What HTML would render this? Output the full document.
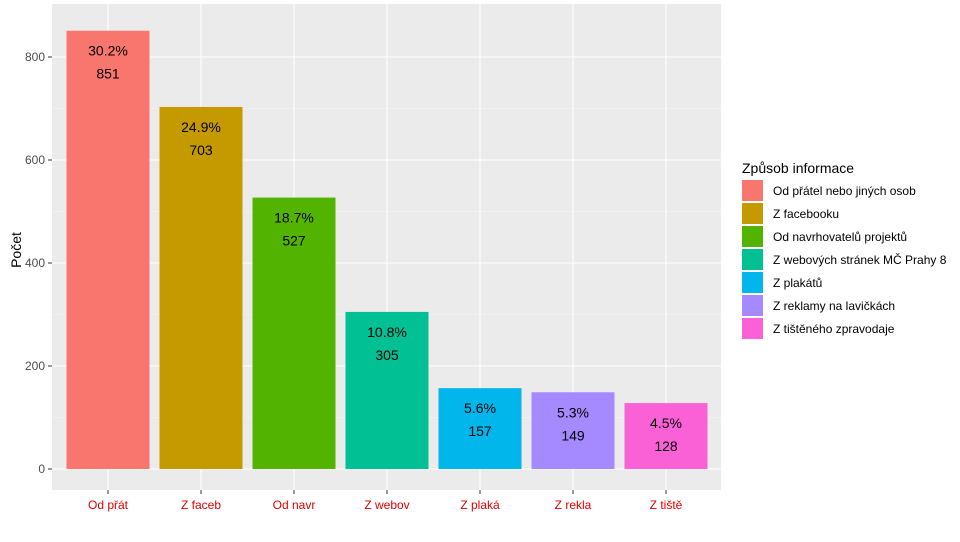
<!DOCTYPE html>
<html><head><meta charset="utf-8"><style>
body{margin:0;background:#fff;font-family:"Liberation Sans",sans-serif;}
</style></head><body>
<svg width="960" height="537" xmlns="http://www.w3.org/2000/svg" font-family="Liberation Sans, sans-serif">
<rect x="0" y="0" width="960" height="537" fill="#fff"/>
<rect x="52" y="4" width="669" height="486" fill="#ebebeb"/>
<g id="grid"></g>
<g id="bars"></g>
<g id="yaxis"></g>
<g id="xaxis"></g>
<text transform="translate(21,250) rotate(-90)" text-anchor="middle" font-size="14" fill="#000">Počet</text>
<g id="legend">
<text x="742" y="173" font-size="14" fill="#000">Způsob informace</text>
</g>
<script>
const categories=["Od přát","Z faceb","Od navr","Z webov","Z plaká","Z rekla","Z tiště"];
const legendLabels=["Od přátel nebo jiných osob","Z facebooku","Od navrhovatelů projektů","Z webových stránek MČ Prahy 8","Z plakátů","Z reklamy na lavičkách","Z tištěného zpravodaje"];
const values=[851,703,527,305,157,149,128];
const percents=["30.2%","24.9%","18.7%","10.8%","5.6%","5.3%","4.5%"];
const colors=["#F8766D","#C49A00","#53B400","#00C094","#00B6EB","#A58AFF","#FB61D7"];
const yTicks=[0,200,400,600,800];
const yMinor=[100,300,500,700];
const NS="http://www.w3.org/2000/svg";
const y=v=>469-v*0.515;
const step=93, x0=108, bw=83;
const x=i=>x0+i*step;
function mk(tag,attrs,parent,txt){const e=document.createElementNS(NS,tag);for(const k in attrs)e.setAttribute(k,attrs[k]);if(txt!==undefined)e.textContent=txt;parent.appendChild(e);return e;}
const grid=document.getElementById('grid'),bars=document.getElementById('bars'),ya=document.getElementById('yaxis'),xa=document.getElementById('xaxis'),lg=document.getElementById('legend');
yMinor.forEach(v=>{const l=mk('line',{x1:52,x2:721,y1:y(v),y2:y(v),stroke:'#f5f5f5','stroke-width':0.6},grid);

});
yTicks.forEach(v=>{const l=mk('line',{x1:52,x2:721,y1:y(v),y2:y(v),stroke:'#fff','stroke-width':1.1},grid);


const t=mk('text',{x:45,y:y(v)+4,'text-anchor':'end','font-size':12,fill:'#4d4d4d'},ya,String(v));


mk('line',{x1:48,x2:52,y1:y(v),y2:y(v),stroke:'#333'},ya);});
categories.forEach((c,i)=>{const l=mk('line',{x1:x(i),x2:x(i),y1:4,y2:490,stroke:'#fff','stroke-width':1.1},grid);


const r=mk('rect',{x:x(i)-bw/2,y:y(values[i]),width:bw,height:y(0)-y(values[i]),fill:colors[i]},bars);


const p=mk('text',{x:x(i),y:y(values[i])+25,'text-anchor':'middle','font-size':14,fill:'#000'},bars,percents[i]);


const n=mk('text',{x:x(i),y:y(values[i])+48,'text-anchor':'middle','font-size':14,fill:'#000'},bars,String(values[i]));


mk('line',{x1:x(i),x2:x(i),y1:490,y2:494,stroke:'#333'},xa);
const t=mk('text',{x:x(i),y:509,'text-anchor':'middle','font-size':12,fill:'#e00000'},xa,c);

});
legendLabels.forEach((s,i)=>{const yy=180+i*23;
const r=mk('rect',{x:742,y:yy,width:21,height:21,fill:colors[i]},lg);


const t=mk('text',{x:773,y:yy+15,'font-size':12,fill:'#000'},lg,s);

});
</script>
</svg>
</body></html>
